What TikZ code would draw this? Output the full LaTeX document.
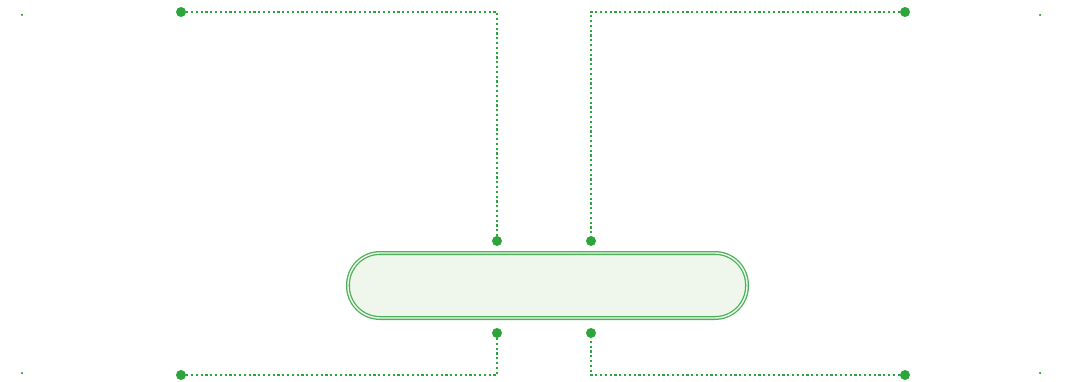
\documentclass[tikz,border=0pt]{standalone}
\usetikzlibrary{positioning}
\definecolor{linkgreen}{RGB}{44,165,58}
\definecolor{hubfill}{RGB}{239,247,236}
\begin{document}
\begin{tikzpicture}[x=1pt,y=-1pt]
	\useasboundingbox (0,0) rectangle (1065,382);
	\begin{scope}[every node/.style={circle,fill=linkgreen,inner sep=0pt,minimum size=10pt}]
	\node (tl) at (181,12) {};
	\node (tr) at (905,12) {};
	\node (bl) at (181,375) {};
	\node (br) at (905,375) {};
	\node (tlin) at (497,241) {};
	\node (trin) at (591,241) {};
	\node (blin) at (497,333) {};
	\node (brin) at (591,333) {};
	\end{scope}
	\begin{scope}[every node/.style={circle,fill=linkgreen,inner sep=0pt,minimum size=2.5pt}]
	\node (c1) at (22,15) {};
	\node (c2) at (1040,15) {};
	\node (c3) at (22,373) {};
	\node (c4) at (1040,373) {};
	\end{scope}
	\node[draw=linkgreen!85,double=hubfill,double distance=1.4pt,line width=1.3pt,
		fill=hubfill,rounded corners=32pt,minimum width=399pt,minimum height=65pt] (hub) at (547.5,285.5) {};
	\begin{scope}[every path/.style={draw=linkgreen,line width=2.4pt,dash pattern=on 2.2pt off 2.6pt}]
	\path (tl) -| (tlin);
	\path (tr) -| (trin);
	\path (bl) -| (blin);
	\path (br) -| (brin);
	\end{scope}
\end{tikzpicture}
\end{document}
